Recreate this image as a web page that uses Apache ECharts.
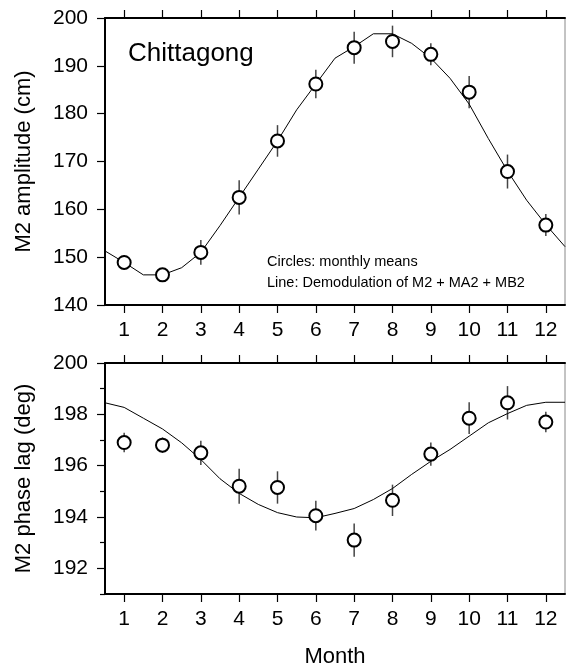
<!DOCTYPE html>
<html>
<head>
<meta charset="utf-8">
<script src="https://cdn.jsdelivr.net/npm/echarts@6/dist/echarts.min.js"></script>
<style>
  html, body { margin: 0; padding: 0; background: #fff; }
  #chart { width: 566px; height: 667px; }
</style>
</head>
<body>
<div id="chart"></div>
<script>
// ---- Data ----
const months = [1, 2, 3, 4, 5, 6, 7, 8, 9, 10, 11, 12];

// Top panel: M2 amplitude (cm), monthly means and error half-widths
const ampMean = [148.9, 146.3, 151.0, 162.5, 174.3, 186.2, 193.8, 195.1, 192.4, 184.5, 167.9, 156.7];
const ampErr  = [1.5, 1.3, 2.6, 3.6, 3.3, 3.0, 3.35, 3.3, 2.3, 3.35, 3.55, 2.3];

// Demodulation line, sampled every half month
const lineMonths = [0.5, 1, 1.5, 2, 2.5, 3, 3.5, 4, 4.5, 5, 5.5, 6, 6.5, 7, 7.5, 8, 8.5, 9, 9.5, 10, 10.5, 11, 11.5, 12, 12.5];
const ampLine = [151.3, 148.9, 146.3, 146.3, 147.8, 151.0, 156.6, 162.5, 168.4, 174.3, 180.8, 186.2, 191.6, 194.0, 196.7, 196.7, 194.7, 191.6, 187.4, 182.0, 174.8, 168.0, 161.9, 156.8, 152.2];

// Bottom panel: M2 phase lag (deg)
const phaseMean = [196.9, 196.8, 196.5, 195.2, 195.15, 194.05, 193.1, 194.65, 196.45, 197.85, 198.45, 197.7];
const phaseErr  = [0.38, 0.3, 0.47, 0.68, 0.63, 0.58, 0.65, 0.61, 0.45, 0.62, 0.65, 0.4];
const phaseLine = [198.45, 198.27, 197.85, 197.43, 196.89, 196.24, 195.49, 194.92, 194.49, 194.17, 194.0, 193.97, 194.14, 194.33, 194.68, 195.11, 195.66, 196.17, 196.63, 197.15, 197.67, 198.03, 198.35, 198.47, 198.47];

// Tick values
const ampTicks = [140, 150, 160, 170, 180, 190, 200];
const phaseMajorTicks = [192, 194, 196, 198, 200];
const phaseMinorTicks = [191, 193, 195, 197, 199];

// Text
const stationLabel = 'Chittagong';
const note1 = 'Circles: monthly means';
const note2 = 'Line: Demodulation of M2 + MA2 + MB2';

// ---- Chart ----
const FONT = "'Liberation Sans', Arial, Helvetica, sans-serif";
const chart = echarts.init(document.getElementById('chart'), null, { renderer: 'canvas' });

function xAxisBase(gridIndex, position, showLabels, labelMargin, name) {
  return {
    type: 'value', gridIndex, position, min: 0.5, max: 12.5,
    splitLine: { show: false },
    axisLine: { show: true, onZero: false, lineStyle: { color: '#000', width: 2 } },
    axisTick: { show: true, customValues: months, length: 8, lineStyle: { color: '#000', width: 1.2 } },
    axisLabel: { show: showLabels, customValues: months, fontSize: 21, color: '#000', fontFamily: FONT, margin: labelMargin },
    name: name || '', nameLocation: 'middle', nameGap: 52,
    nameTextStyle: { fontSize: 22, color: '#000', fontFamily: FONT }
  };
}

function errRender(params, api) {
  const x = api.value(0), m = api.value(1), e = api.value(2);
  const p1 = api.coord([x, m + e]);
  const p2 = api.coord([x, m - e]);
  return { type: 'line', shape: { x1: p1[0], y1: p1[1], x2: p2[0], y2: p2[1] },
           style: { stroke: '#444', lineWidth: 1.5 } };
}

const option = {
  backgroundColor: '#fff',
  animation: false,
  grid: [
    { left: 105, top: 18, width: 460, height: 287, show: true, borderColor: '#888', borderWidth: 1,
      containLabel: false, outerBoundsMode: 'none' },
    { left: 105, top: 363, width: 460, height: 231, show: true, borderColor: '#888', borderWidth: 1,
      containLabel: false, outerBoundsMode: 'none' }
  ],
  xAxis: [
    xAxisBase(0, 'bottom', true, 15),
    xAxisBase(0, 'top', false, 14),
    xAxisBase(1, 'bottom', true, 15, 'Month'),
    xAxisBase(1, 'top', false, 14)
  ],
  yAxis: [
    {
      type: 'value', gridIndex: 0, position: 'left', min: 140, max: 200, interval: 10,
      splitLine: { show: false },
      axisLine: { show: true, onZero: false, lineStyle: { color: '#000', width: 2 } },
      axisTick: { show: true, customValues: ampTicks, length: 8, lineStyle: { color: '#000', width: 1.2 } },
      axisLabel: { customValues: ampTicks, fontSize: 21, color: '#000', fontFamily: FONT, margin: 17 },
      name: 'M2 amplitude (cm)', nameLocation: 'middle', nameGap: 70,
      nameTextStyle: { fontSize: 22, color: '#000', fontFamily: FONT }
    },
    {
      type: 'value', gridIndex: 1, position: 'left', min: 191, max: 200,
      splitLine: { show: false },
      axisLine: { show: true, onZero: false, lineStyle: { color: '#000', width: 2 } },
      axisTick: { show: true, customValues: phaseMajorTicks, length: 8, lineStyle: { color: '#000', width: 1.2 } },
      axisLabel: { customValues: phaseMajorTicks, fontSize: 21, color: '#000', fontFamily: FONT, margin: 17 },
      name: 'M2 phase lag (deg)', nameLocation: 'middle', nameGap: 70,
      nameTextStyle: { fontSize: 22, color: '#000', fontFamily: FONT }
    },
    {
      type: 'value', gridIndex: 1, position: 'left', min: 191, max: 200,
      splitLine: { show: false },
      axisLine: { show: false },
      axisTick: { show: true, customValues: phaseMinorTicks, length: 5, lineStyle: { color: '#000', width: 1.2 } },
      axisLabel: { show: false }
    }
  ],
  series: [
    {
      type: 'custom', xAxisIndex: 0, yAxisIndex: 0, z: 2,
      renderItem: errRender,
      data: months.map((m, i) => [m, ampMean[i], ampErr[i]])
    },
    {
      type: 'line', xAxisIndex: 0, yAxisIndex: 0, z: 3,
      symbol: 'none', smooth: false,
      lineStyle: { color: '#000', width: 1 },
      data: lineMonths.map((m, i) => [m, ampLine[i]])
    },
    {
      type: 'scatter', xAxisIndex: 0, yAxisIndex: 0, z: 4,
      symbol: 'circle', symbolSize: 13,
      itemStyle: { color: '#fff', borderColor: '#000', borderWidth: 2, opacity: 1 },
      data: months.map((m, i) => [m, ampMean[i]])
    },
    {
      type: 'custom', xAxisIndex: 2, yAxisIndex: 1, z: 2,
      renderItem: errRender,
      data: months.map((m, i) => [m, phaseMean[i], phaseErr[i]])
    },
    {
      type: 'line', xAxisIndex: 2, yAxisIndex: 1, z: 3,
      symbol: 'none', smooth: false,
      lineStyle: { color: '#000', width: 1 },
      data: lineMonths.map((m, i) => [m, phaseLine[i]])
    },
    {
      type: 'scatter', xAxisIndex: 2, yAxisIndex: 1, z: 4,
      symbol: 'circle', symbolSize: 13,
      itemStyle: { color: '#fff', borderColor: '#000', borderWidth: 2, opacity: 1 },
      data: months.map((m, i) => [m, phaseMean[i]])
    }
  ],
  graphic: [
    { type: 'text', x: 128, y: 54, z: 10,
      style: { text: stationLabel, fontSize: 26, fontFamily: FONT, fill: '#000', align: 'left', verticalAlign: 'middle' } },
    { type: 'text', x: 267, y: 262, z: 10,
      style: { text: note1, fontSize: 14.5, fontFamily: FONT, fill: '#000', align: 'left', verticalAlign: 'middle' } },
    { type: 'text', x: 267, y: 283, z: 10,
      style: { text: note2, fontSize: 14.5, fontFamily: FONT, fill: '#000', align: 'left', verticalAlign: 'middle' } }
  ]
};
chart.setOption(option);
</script>
</body>
</html>
